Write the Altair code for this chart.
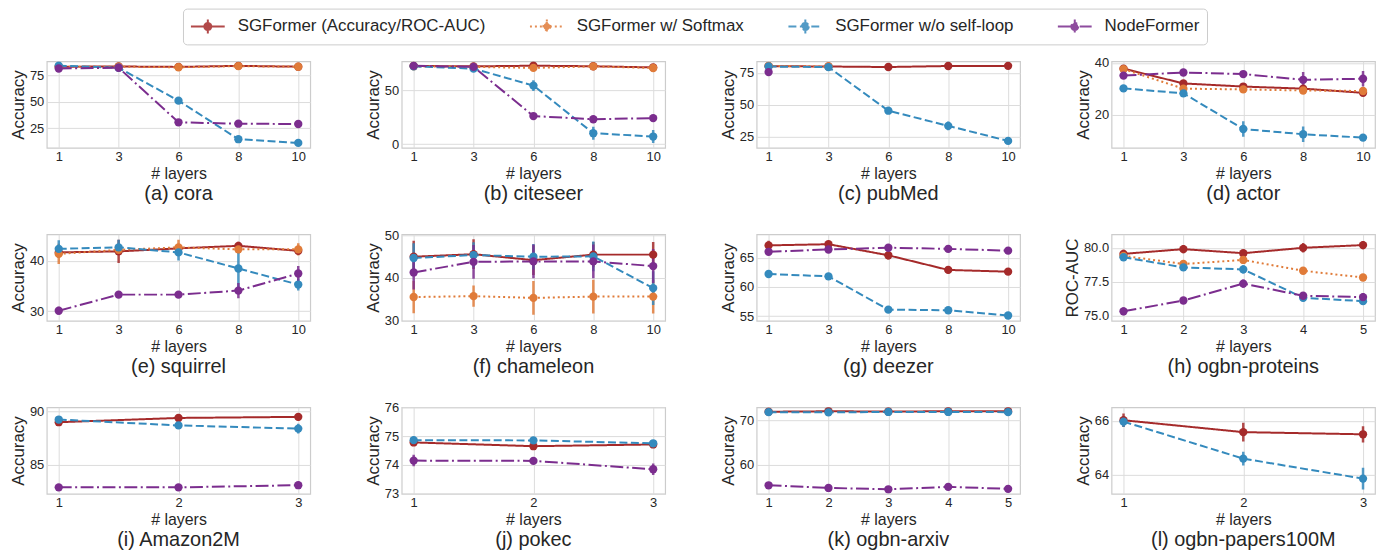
import altair as alt
import pandas as pd

SERIES = ["SGFormer (Accuracy/ROC-AUC)", "SGFormer w/ Softmax", "SGFormer w/o self-loop", "NodeFormer"]
COLORS = ["#a52a2a", "#e07b39", "#348abd", "#7b2d8e"]
DASHES = [[1, 0], [2, 3], [8, 3.5], [13, 3.5, 2, 3.5]]

LAYERS_DEEP = [1, 3, 6, 8, 10]
LAYERS_FIVE = [1, 2, 3, 4, 5]
LAYERS_THREE = [1, 2, 3]

# order of series in each list: SGFormer, w/ Softmax, w/o self-loop, NodeFormer
cora = [[83.0, 83.2, 82.8, 83.8, 83.0], [83.0, 83.0, 82.5, 83.5, 83.0], [84.0, 82.0, 51.0, 14.7, 11.2], [81.3, 82.0, 30.6, 29.3, 29.0]]
cora_err = [[0.8, 0.6, 0.7, 0.8, 0.7], [0.8, 0.6, 0.8, 0.8, 0.7], [0.8, 1.0, 3.0, 2.0, 1.0], [1.0, 1.0, 1.0, 1.0, 1.0]]
citeseer = [[72.4, 72.0, 72.6, 72.1, 71.0], [72.0, 71.5, 70.6, 72.0, 70.5], [72.0, 69.9, 54.2, 10.1, 7.0], [72.5, 71.5, 26.0, 23.0, 24.1]]
citeseer_err = [[0.6, 0.6, 0.6, 0.6, 0.6], [0.8, 0.8, 1.5, 0.8, 0.8], [1.0, 1.0, 5.0, 6.0, 6.0], [1.0, 1.0, 1.5, 1.0, 1.0]]
pubmed = [[80.3, 80.0, 79.6, 80.4, 80.5], [80.5, 80.0, None, None, None], [80.0, 79.5, 45.3, 33.4, 21.6], [75.6, None, None, None, None]]
pubmed_err = [[0.5, 0.5, 0.5, 0.5, 0.5], [0.5, 0.5, 0, 0, 0], [0.5, 0.5, 1.5, 3.5, 1.5], [0.6, 0, 0, 0, 0]]
actor = [[37.8, 32.1, 30.9, 30.1, 28.5], [37.6, 30.1, 29.8, 29.4, 29.2], [30.2, 28.3, 14.6, 12.6, 11.3], [35.1, 36.3, 35.7, 33.5, 33.9]]
actor_err = [[0.8, 0.8, 1.0, 1.0, 1.0], [0.8, 0.8, 0.8, 0.8, 0.8], [0.6, 0.8, 3.0, 3.0, 0.8], [0.8, 0.8, 0.8, 3.0, 3.0]]
squirrel = [[41.7, 41.9, 42.5, 43.0, 42.0], [41.4, 42.2, 42.7, 42.3, 42.3], [42.4, 42.7, 41.7, 38.5, 35.3], [30.1, 33.3, 33.3, 34.1, 37.5]]
squirrel_err = [[1.0, 2.3, 0.8, 0.8, 0.6], [2.0, 0.8, 1.5, 0.8, 1.2], [1.7, 1.5, 1.6, 3.8, 1.2], [0.8, 0.6, 0.5, 1.5, 1.5]]
chameleon = [[45.0, 45.6, 44.2, 45.5, 45.5], [35.5, 35.7, 35.3, 35.6, 35.6], [44.7, 45.4, 45.0, 45.1, 37.6], [41.3, 43.8, 43.9, 43.9, 42.8]]
chameleon_err = [[3.8, 3.5, 3.5, 3.0, 3.0], [3.8, 2.5, 4.0, 4.0, 4.0], [3.5, 3.0, 3.0, 3.5, 4.0], [4.0, 4.0, 4.0, 4.0, 4.0]]
deezer = [[67.1, 67.3, 65.4, 62.9, 62.6], [None, None, None, None, None], [62.2, 61.8, 56.1, 56.0, 55.1], [66.0, 66.4, 66.7, 66.5, 66.2]]
deezer_err = [[0.8, 0.4, 0.7, 0.6, 0.4], [0, 0, 0, 0, 0], [0.3, 0.3, 0.3, 0.3, 0.3], [0.3, 0.3, 0.3, 0.3, 0.3]]
proteins = [[79.55, 79.9, 79.6, 80.0, 80.2], [79.4, 78.8, 79.1, 78.3, 77.8], [79.3, 78.55, 78.4, 76.3, 76.05], [75.3, 76.1, 77.35, 76.45, 76.35]]
proteins_err = [[0.3, 0.3, 0.2, 0.35, 0.3], [0.2, 0.25, 0.2, 0.2, 0.25], [0.2, 0.25, 0.3, 0.25, 0.2], [0.3, 0.15, 0.3, 0.25, 0.3]]
amazon = [[89.0, 89.4, 89.5], [None, None, None], [89.25, 88.7, 88.4], [82.9, 82.9, 83.1]]
amazon_err = [[0.2, 0.15, 0.35], [0, 0, 0], [0.15, 0.25, 0.45], [0.1, 0.1, 0.1]]
pokec = [[74.78, 74.65, 74.71], [None, None, None], [74.86, 74.85, 74.75], [74.15, 74.14, 73.85]]
pokec_err = [[0.1, 0.1, 0.05], [0, 0, 0], [0.12, 0.08, 0.05], [0.2, 0.1, 0.2]]
arxiv = [[71.9, 72.0, 71.95, 72.0, 72.0], [None] * 5, [71.8, 71.75, 71.85, 71.85, 71.8], [55.4, 54.8, 54.5, 55.05, 54.6]]
arxiv_err = [[0.3] * 5, [0] * 5, [0.3] * 5, [0.3] * 5]
papers = [[66.02, 65.58, 65.5], [None, None, None], [65.97, 64.6, 63.86], [None, None, None]]
papers_err = [[0.25, 0.35, 0.3], [0, 0, 0], [0.2, 0.25, 0.4], [0, 0, 0]]

PANELS = [
    ("(a) cora", LAYERS_DEEP, cora, cora_err, "Accuracy", [6.6, 88.1], [25, 50, 75], "d"),
    ("(b) citeseer", LAYERS_DEEP, citeseer, citeseer_err, "Accuracy", [-3.4, 76.7], [0, 50], "d"),
    ("(c) pubMed", LAYERS_DEEP, pubmed, pubmed_err, "Accuracy", [16.2, 84.1], [25, 50, 75], "d"),
    ("(d) actor", LAYERS_DEEP, actor, actor_err, "Accuracy", [7.4, 40.6], [20, 40], "d"),
    ("(e) squirrel", LAYERS_DEEP, squirrel, squirrel_err, "Accuracy", [28.1, 45.3], [30, 40], "d"),
    ("(f) chameleon", LAYERS_DEEP, chameleon, chameleon_err, "Accuracy", [29.9, 50.3], [30, 40, 50], "d"),
    ("(g) deezer", LAYERS_DEEP, deezer, deezer_err, "Accuracy", [54.2, 69.0], [55, 60, 65], "d"),
    ("(h) ogbn-proteins", LAYERS_FIVE, proteins, proteins_err, "ROC-AUC", [74.6, 81.0], [75.0, 77.5, 80.0], ".1f"),
    ("(i) Amazon2M", LAYERS_THREE, amazon, amazon_err, "Accuracy", [82.3, 90.4], [85, 90], "d"),
    ("(j) pokec", LAYERS_THREE, pokec, pokec_err, "Accuracy", [73.0, 76.0], [73, 74, 75, 76], "d"),
    ("(k) ogbn-arxiv", LAYERS_FIVE, arxiv, arxiv_err, "Accuracy", [53.5, 72.9], [60, 70], "d"),
    ("(l) ogbn-papers100M", LAYERS_THREE, papers, papers_err, "Accuracy", [63.3, 66.5], [64, 66], "d"),
]

FONT = "Liberation Sans"
W, H = 265, 87

color_scale = alt.Scale(domain=SERIES, range=COLORS)
dash_scale = alt.Scale(domain=SERIES, range=DASHES)

SYMBOL = "M-1.7,0H1.7M0,-0.7V0.7M0.35,0A0.35,0.35,0,1,1,-0.35,0A0.35,0.35,0,1,1,0.35,0"

LEGEND = alt.Legend(
    title=None, orient="none", legendX=137, legendY=-53, direction="horizontal", columns=4,
    labelFontSize=17, labelFont=FONT, labelColor="#262626", labelLimit=400,
    symbolType=SYMBOL, symbolSize=400, symbolStrokeWidth=2, symbolOffset=7,
    strokeColor="#cccccc", fillColor="white", padding=7, cornerRadius=4,
    columnPadding=40, labelOffset=19,
)


def panel(title, layers, means, errs, ylabel, ydom, yticks, fmt):
    rows = []
    for s, vals, es in zip(SERIES, means, errs):
        for l, v, e in zip(layers, vals, es):
            if v is None:
                continue
            rows.append({"layer": l, "series": s, "acc": v, "err": e})
    df = pd.DataFrame(rows)
    pad = 0.05 * (len(layers) - 1)
    x = alt.X("layer:O", scale=alt.Scale(type="point", padding=pad),
              axis=alt.Axis(title="# layers", labelAngle=0, grid=True))
    yscale = alt.Scale(domain=ydom, nice=False, zero=False)
    yaxis = alt.Axis(title=ylabel, values=yticks, format=fmt, grid=True, titleFontSize=17)
    color = alt.Color("series:N", scale=color_scale, legend=LEGEND)
    base = alt.Chart(df).transform_calculate(lo="datum.acc - datum.err", hi="datum.acc + datum.err")
    line = base.mark_line(strokeWidth=2, clip=True).encode(
        x=x, y=alt.Y("acc:Q", scale=yscale, axis=yaxis),
        color=color,
        strokeDash=alt.StrokeDash("series:N", scale=dash_scale, legend=LEGEND),
    )
    err = base.mark_rule(strokeWidth=2.5, opacity=0.85, clip=True).encode(
        x=x, y=alt.Y("lo:Q", scale=yscale, axis=yaxis), y2="hi:Q", color=color,
    )
    pts = base.mark_circle(size=70, opacity=1, clip=True).encode(
        x=x, y=alt.Y("acc:Q", scale=yscale, axis=yaxis), color=color,
    )
    return alt.layer(line, err, pts).properties(
        width=W, height=H,
        title=alt.TitleParams(text=title, orient="bottom", fontSize=20, font=FONT,
                              fontWeight="normal", color="#262626", frame="group",
                              anchor="middle", offset=3),
    )


charts = [panel(*p) for p in PANELS]
chart = alt.concat(*charts, columns=4, spacing={"row": 87, "column": 92}, bounds="flush").resolve_scale(
    x="independent", y="independent", color="shared", strokeDash="shared"
).properties(
    padding={"left": 0, "top": -2, "right": 0, "bottom": 2}
).configure_view(
    stroke="#cccccc", strokeWidth=1.2
).configure_axis(
    labelFont=FONT, titleFont=FONT, labelFontSize=13, titleFontSize=16,
    labelColor="#262626", titleColor="#262626", titleFontWeight="normal",
    gridColor="#dcdcdc", gridWidth=1, domain=False, ticks=False, tickSize=0,
    labelPadding=3, titlePadding=2,
)

chart.save("out.html", embed_options={"renderer": "svg", "actions": False})
